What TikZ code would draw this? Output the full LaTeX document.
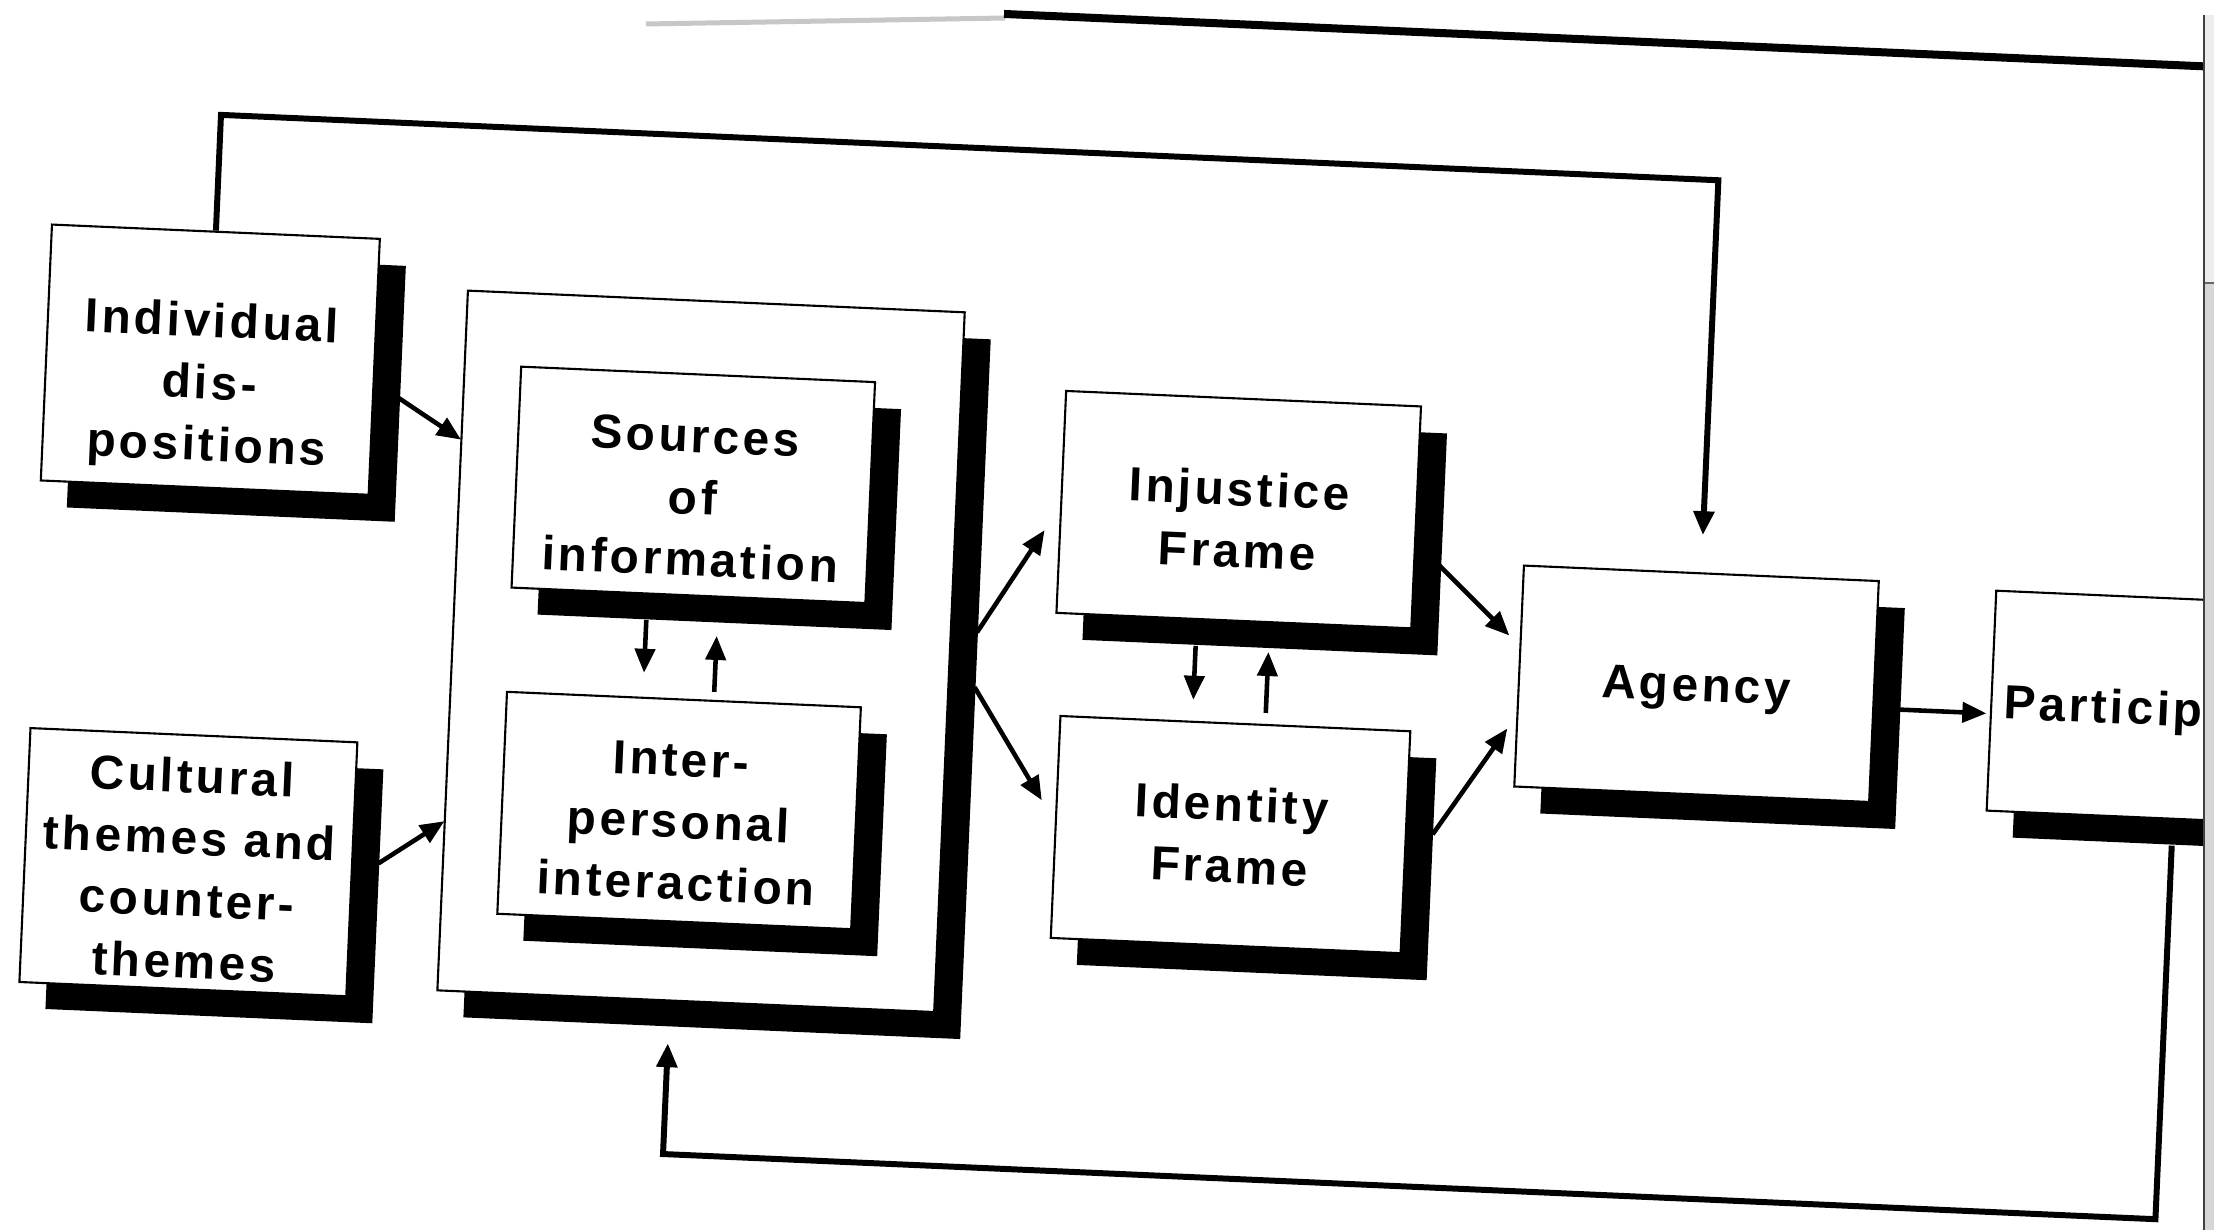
\documentclass[tikz,border=0pt]{standalone}
\usepackage{fontspec}
\usetikzlibrary{shadows,arrows.meta}
\newfontfamily\boxfamily{Liberation Sans}[LetterSpace=7]
\newcommand\boxfont{\boxfamily\bfseries\fontsize{13.6pt}{17.6pt}\selectfont}
\newcommand\bxt[2]{\raisebox{#1}[\height][\depth]{\begin{tabular}{@{}c@{}}#2\end{tabular}}}
\begin{document}
\begin{tikzpicture}[x=0.01cm,y=-0.01cm,
  bx/.style={rectangle, draw=black, line width=0.6pt, fill=white, inner sep=0pt, font=\boxfont,
     drop shadow={shadow xshift=0.26cm, shadow yshift=-0.27cm, opacity=1, fill=black}},
  tip/.style={-{Triangle[length=0.24cm,width=0.2cm]}},
  arr/.style={line width=1.3pt, tip},
  fb/.style={line width=1.7pt},
]
\useasboundingbox (0,0) rectangle (2214,1230);
\fill[white] (0,0) rectangle (2214,1230);
% faint part of the top line
\draw[black!22, line width=0.05cm] (646,24) -- (1005,18);
\begin{scope}
\clip (0,0) rectangle (2203,1230);
\begin{scope}[rotate around={-2.5:(1107,615)}, transform shape]
  % boxes
  \node[bx, minimum width=4.97cm, minimum height=7cm] (outer) at (703,669) {};
  \node[bx, minimum width=3.28cm, minimum height=2.56cm] (ind) at (200,399)
     {\bxt{-0.27cm}{Individual\\dis-\\positions}};
  \node[bx, minimum width=3.27cm, minimum height=2.54cm] (cult) at (200,902)
     {\bxt{-0.11cm}{Cultural\\themes and\\counter-\\themes}};
  \node[bx, minimum width=3.54cm, minimum height=2.21cm] (src) at (688,503)
     {\bxt{-0.17cm}{Sources\\of\\information}};
  \node[bx, minimum width=3.54cm, minimum height=2.22cm] (inter) at (688,829)
     {\bxt{-0.15cm}{Inter-\\personal\\interaction}};
  \node[bx, minimum width=3.55cm, minimum height=2.22cm] (inj) at (1234,504)
     {\bxt{-0.145cm}{Injustice\\Frame}};
  \node[bx, minimum width=3.50cm, minimum height=2.22cm] (idf) at (1240,829)
     {\bxt{-0.05cm}{Identity\\Frame}};
  \node[bx, minimum width=3.55cm, minimum height=2.21cm] (agency) at (1699,658)
     {\bxt{-0.05cm}{Agency}};
  \node[bx, minimum width=3.55cm, minimum height=2.20cm] (part) at (2172,662)
     {\bxt{-0.05cm}{Participation}};
  % connector end points
  \coordinate (ia) at (388,428);  \coordinate (ib) at (454,468);
  \coordinate (ca) at (390,895);  \coordinate (cb) at (454,850);
  \coordinate (sd1) at (647,640); \coordinate (sd2) at (647,693);
  \coordinate (su1) at (718,709); \coordinate (su2) at (718,653);
  \coordinate (oj1) at (978,638); \coordinate (oj2) at (1041,533);
  \coordinate (oi1) at (978,693); \coordinate (oi2) at (1050,803);
  \coordinate (fd1) at (1197,642); \coordinate (fd2) at (1197,696);
  \coordinate (fu1) at (1270,706); \coordinate (fu2) at (1270,645);
  \coordinate (ja1) at (1437,551); \coordinate (ja2) at (1510,618);
  \coordinate (da1) at (1442,820); \coordinate (da2) at (1512,711);
  \coordinate (ap1) at (1903,675); \coordinate (ap2) at (1990,675);
  \coordinate (l1) at (200,154);  \coordinate (l2) at (1699,154);
  \coordinate (b1) at (2181,799); \coordinate (b2) at (2181,1173);
  \coordinate (b3) at (687,1173); \coordinate (b4) at (687,1062);
  \coordinate (t1) at (978,19);   \coordinate (t2) at (2260,19);
  % connectors
  \draw[arr] (ia) -- (ib);
  \draw[arr] (ca) -- (cb);
  \draw[arr] (sd1) -- (sd2);
  \draw[arr] (su1) -- (su2);
  \draw[arr] (oj1) -- (oj2);
  \draw[arr] (oi1) -- (oi2);
  \draw[arr] (fd1) -- (fd2);
  \draw[arr] (fu1) -- (fu2);
  \draw[arr] (ja1) -- (ja2);
  \draw[arr] (da1) -- (da2);
  \draw[arr] (ap1) -- (ap2);
  \draw[fb, tip, shorten >=0.37cm] (ind.north) -- (l1) -- (l2) -- (agency.north);
  \draw[fb, tip] (b1) -- (b2) -- (b3) -- (b4);
  \draw[line width=0.08cm] (t1) -- (t2);
\end{scope}
\end{scope}
% scanned page edge
\fill[black!7] (2204,15) rectangle (2214,283);
\fill[black!16] (2204,283) rectangle (2214,1230);
\draw[black!60, line width=0.015cm] (2203.5,283) -- (2214,283);
\draw[black!75, line width=0.02cm] (2203.5,15) -- (2203.5,1230);
\end{tikzpicture}
\end{document}
